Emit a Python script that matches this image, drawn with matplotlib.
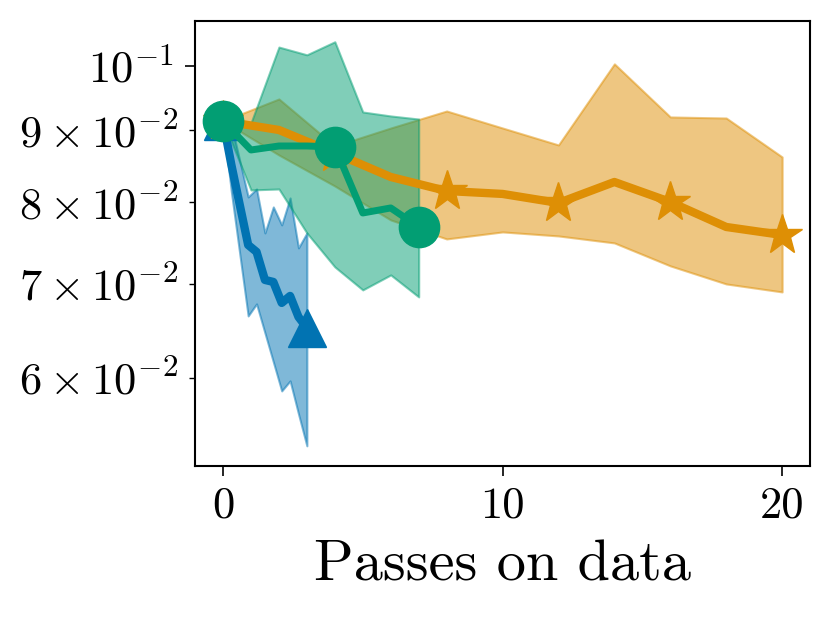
import matplotlib
matplotlib.use("Agg")
import matplotlib.pyplot as plt
from matplotlib.ticker import FixedLocator

plt.rcParams['font.family'] = 'cmr10'
plt.rcParams['mathtext.fontset'] = 'cm'
plt.rcParams['axes.unicode_minus'] = False
plt.rcParams['axes.formatter.use_mathtext'] = True

# Colours (seaborn colorblind)
c_blue = "#0173b2"
c_orange = "#de8f05"
c_green = "#029e73"

# Blue series (triangles)
blue_x = [0.0, 0.3, 0.6, 0.9, 1.2, 1.5, 1.8, 2.1, 2.4, 2.7, 3.0]
blue_mean = [0.09134, 0.08500, 0.07961, 0.07456, 0.07372, 0.07041, 0.07018, 0.06781, 0.06859, 0.06627, 0.06509]
blue_upper = [0.09134, 0.09075, 0.08556, 0.08066, 0.08172, 0.07604, 0.07935, 0.07705, 0.08053, 0.07420, 0.07604]
blue_lower = [0.09134, 0.08132, 0.07347, 0.06638, 0.06770, 0.06456, 0.06157, 0.05871, 0.05968, 0.05654, 0.05366]

# Orange series (stars)
orange_x = [0, 2, 4, 6, 8, 10, 12, 14, 16, 18, 20]
orange_mean = [0.09134, 0.09001, 0.08668, 0.08334, 0.08145, 0.08106, 0.07987, 0.08266, 0.08000, 0.07679, 0.07579]
orange_upper = [0.09134, 0.09470, 0.08768, 0.09030, 0.09285, 0.09030, 0.08783, 0.1003, 0.09195, 0.09179, 0.08612]
orange_lower = [0.09134, 0.08640, 0.08212, 0.07768, 0.07530, 0.07617, 0.07567, 0.07481, 0.07205, 0.06995, 0.06904]

# Green series (circles)
green_x = [0, 1, 2, 3, 4, 5, 6, 7]
green_mean = [0.09134, 0.08711, 0.08768, 0.08768, 0.08754, 0.07857, 0.07922, 0.07679]
green_upper = [0.09134, 0.09105, 0.1031, 0.1018, 0.1040, 0.09270, 0.09210, 0.09164]
green_lower = [0.09134, 0.08159, 0.08172, 0.07604, 0.07193, 0.06927, 0.07099, 0.06848]

x_ticks = [0, 10, 20]
x_label = "Passes on data"

fig = plt.figure(figsize=(8.3, 6.17), dpi=100)
ax = fig.add_axes([0.235, 0.245, 0.741, 0.721])

ax.fill_between(blue_x, blue_lower, blue_upper, color=c_blue, alpha=0.5, lw=1.5)
ax.plot(blue_x, blue_mean, color=c_blue, lw=6, marker='^', ms=28, markevery=[0, 10])

ax.fill_between(orange_x, orange_lower, orange_upper, color=c_orange, alpha=0.5, lw=1.5)
ax.plot(orange_x, orange_mean, color=c_orange, lw=6, marker='*', ms=30, markevery=2)

ax.fill_between(green_x, green_lower, green_upper, color=c_green, alpha=0.5, lw=1.5)
ax.plot(green_x, green_mean, color=c_green, lw=5, marker='o', ms=29, markevery=[0, 4, 7])

ax.set_yscale('log')
ax.set_xlim(-1, 21)
ax.set_ylim(0.05193, 0.1076)
ax.xaxis.set_major_locator(FixedLocator(x_ticks))
ax.set_xticklabels([str(t) for t in x_ticks])

for s in ax.spines.values():
    s.set_linewidth(1.5)
ax.tick_params(which='major', length=7, width=1.2, labelsize=32, pad=8)
ax.tick_params(which='minor', length=4, width=1.0, labelsize=32, pad=8)

ax.set_xlabel(x_label, fontsize=42, labelpad=10)

fig.savefig("out.png", dpi=100)
